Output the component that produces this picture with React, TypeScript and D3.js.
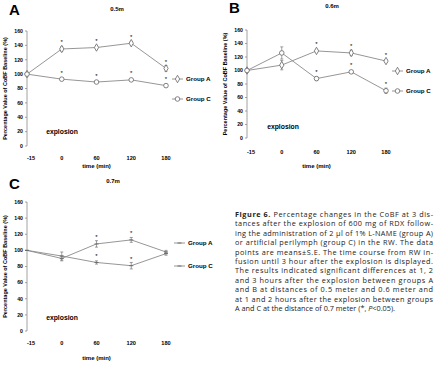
import React from 'react';
import * as d3 from 'd3';

// time points (min) shared by all three panels
const times = ['-15', '0', '60', '120', '180'];
const yTicks = [0, 20, 40, 60, 80, 100, 120, 140, 160];

// 0.5 m
const a05 = [100, 135, 137, 143, 108];
const a05Err = [0, 3, 2, 2, 4];
const c05 = [100, 93, 89, 92, 84];
const c05Err = [0, 1, 1, 1, 2];
const sig05 = [false, true, true, true, true];

// 0.6 m
const a06 = [100, 108, 129, 126, 114];
const a06Err = [0, 7, 2, 4, 2];
const c06 = [100, 126, 88, 98, 70];
const c06Err = [0, 9, 3, 2, 4];
const sig06 = [false, false, true, true, true];

// 0.7 m
const a07 = [100, 90, 108, 113, 98];
const a07Err = [0, 3, 4, 3, 2];
const c07 = [100, 93, 85, 81, 96];
const c07Err = [0, 5, 2, 4, 2];
const sig07 = [false, false, true, true, false];

const captionLines = [
  'tances after the explosion of 600 mg of RDX follow-',
  'ing the administration of 2 μl of 1% L-NAME (group A)',
  'or artificial perilymph (group C) in the RW. The data',
  'points are means±S.E. The time course from RW in-',
  'fusion until 3 hour after the explosion is displayed.',
  'The results indicated significant differences at 1, 2',
  'and 3 hours after the explosion between groups A',
  'and B at distances of 0.5 meter and 0.6 meter and',
  'at 1 and 2 hours after the explosion between groups',
];

const FONT = '"Liberation Sans", Arial, sans-serif';
const LINE = '#8a8a8a';

type PanelProps = {
  letter: string;
  title: string;
  left: number;
  right: number;
  top: number;
  bottom: number;
  letterX: number;
  letterY: number;
  titleX: number;
  titleY: number;
  labelY: number;
  axisTitleY: number;
  legendX: number;
  legendY: [number, number];
  explosionX: number;
  explosionY: number;
  groupA: number[];
  errA: number[];
  groupC: number[];
  errC: number[];
  sig: boolean[];
  dashMarkers?: boolean;
};

function Marker({ x, y, kind }: { x: number; y: number; kind: string }) {
  if (kind === 'dash') {
    return <line x1={x - 2} x2={x + 2} y1={y} y2={y} stroke="#666" strokeWidth={0.9} />;
  }
  if (kind === 'diamond') {
    const d = d3.symbol(d3.symbolDiamond, 16)() as string;
    return <path d={d} transform={`translate(${x},${y})`} fill="#fff" stroke="#666" strokeWidth={0.8} />;
  }
  return <circle cx={x} cy={y} r={2.3} fill="#fff" stroke="#666" strokeWidth={0.8} />;
}

function Panel(p: PanelProps) {
  const x = d3.scalePoint<string>().domain(times).range([p.left, p.right]);
  const y = d3.scaleLinear().domain([0, 160]).range([p.bottom, p.top]);
  const line = d3
    .line<number>()
    .x((_, i) => x(times[i]) as number)
    .y((d) => y(d));

  const series = [
    { name: 'Group A', values: p.groupA, err: p.errA, kind: p.dashMarkers ? 'dash' : 'diamond' },
    { name: 'Group C', values: p.groupC, err: p.errC, kind: p.dashMarkers ? 'dash' : 'circle' },
  ];

  return (
    <g fontFamily={FONT}>
      <text x={p.letterX} y={p.letterY} fontSize={15} fontWeight="bold">
        {p.letter}
      </text>
      <text x={p.titleX} y={p.titleY} fontSize={6} fontWeight="bold" textAnchor="middle">
        {p.title}
      </text>

      {/* y axis */}
      <line x1={p.left} x2={p.left} y1={y(160)} y2={y(0)} stroke={LINE} strokeWidth={0.8} />
      {yTicks.map((t) => (
        <g key={t}>
          <line x1={p.left - 2} x2={p.left} y1={y(t)} y2={y(t)} stroke={LINE} strokeWidth={0.8} />
          <text x={p.left - 4} y={y(t)} dy="0.35em" fontSize={5.2} fontWeight="bold" textAnchor="end">
            {t}
          </text>
        </g>
      ))}
      <text
        transform={`translate(${p.left - 20},${(y(0) + y(160)) / 2}) rotate(-90)`}
        fontSize={5.5}
        fontWeight="bold"
        textAnchor="middle"
      >
        Percentage Value of CoBF Baseline (%)
      </text>

      {/* x axis labels */}
      {times.map((t, i) => (
        <text key={t} x={(x(t) as number) + (i === 0 ? 4 : 0)} y={p.labelY} fontSize={5.6} fontWeight="bold" textAnchor="middle">
          {t}
        </text>
      ))}
      <text x={x('60')} y={p.axisTitleY} fontSize={6} fontWeight="bold" textAnchor="middle">
        time (min)
      </text>

      <text x={p.explosionX} y={p.explosionY} fontSize={6.8} fontWeight="bold" textAnchor="middle">
        explosion
      </text>

      {series.map((s) => (
        <g key={s.name}>
          <path d={line(s.values) as string} fill="none" stroke={LINE} strokeWidth={0.9} />
          {s.values.map((v, i) =>
            s.err[i] > 0 ? (
              <g key={'e' + i} stroke="#777" strokeWidth={0.7}>
                <line x1={x(times[i])} x2={x(times[i])} y1={y(v - s.err[i])} y2={y(v + s.err[i])} />
                <line x1={(x(times[i]) as number) - 1.5} x2={(x(times[i]) as number) + 1.5} y1={y(v + s.err[i])} y2={y(v + s.err[i])} />
                <line x1={(x(times[i]) as number) - 1.5} x2={(x(times[i]) as number) + 1.5} y1={y(v - s.err[i])} y2={y(v - s.err[i])} />
              </g>
            ) : null
          )}
          {s.values.map((v, i) => (
            <Marker key={'m' + i} x={x(times[i]) as number} y={y(v)} kind={s.kind} />
          ))}
          {s.values.map((v, i) =>
            p.sig[i] ? (
              <text key={'s' + i} x={x(times[i])} y={y(v) - 4.5} fontSize={6} textAnchor="middle">
                *
              </text>
            ) : null
          )}
        </g>
      ))}

      {/* legend */}
      {series.map((s, i) => (
        <g key={'l' + s.name}>
          <line x1={p.legendX} x2={p.legendX + 11} y1={p.legendY[i]} y2={p.legendY[i]} stroke={LINE} strokeWidth={0.9} />
          <Marker x={p.legendX + 5.5} y={p.legendY[i]} kind={s.kind} />
          <text x={p.legendX + 14} y={p.legendY[i]} dy="0.35em" fontSize={6.2} fontWeight="bold">
            {s.name}
          </text>
        </g>
      ))}
    </g>
  );
}

export default function App() {
  const capX = 235;
  const capW = 198;
  const capY0 = 217;
  const capStep = 9.4;
  return (
    <svg width={439} height={380} style={{ position: 'absolute', left: 0, top: 0, background: '#fff' }}>
      <Panel
        letter="A" title="0.5m"
        left={27} right={166} top={31} bottom={146}
        letterX={9} letterY={15} titleX={117} titleY={11}
        labelY={160} axisTitleY={168}
        legendX={172} legendY={[79, 99]}
        explosionX={62} explosionY={134}
        groupA={a05} errA={a05Err} groupC={c05} errC={c05Err} sig={sig05}
      />
      <Panel
        letter="B" title="0.6m"
        left={247} right={386} top={30} bottom={138}
        letterX={229} letterY={13} titleX={332} titleY={8}
        labelY={154} axisTitleY={168}
        legendX={392} legendY={[71, 91]}
        explosionX={283} explosionY={129}
        groupA={a06} errA={a06Err} groupC={c06} errC={c06Err} sig={sig06}
      />
      <Panel
        letter="C" title="0.7m"
        left={27} right={166} top={202} bottom={331}
        letterX={9} letterY={189} titleX={113} titleY={183}
        labelY={345} axisTitleY={360}
        legendX={174} legendY={[243, 266]}
        explosionX={62} explosionY={320}
        groupA={a07} errA={a07Err} groupC={c07} errC={c07Err} sig={sig07}
        dashMarkers
      />

      <g fontFamily='"Open Sans", "DejaVu Sans", sans-serif' fontSize={7.3} fill="#222">
        <text x={capX} y={capY0} textLength={capW} lengthAdjust="spacing">
          <tspan fontWeight="bold">Figure 6.</tspan> Percentage changes in the CoBF at 3 dis-
        </text>
        {captionLines.map((l, i) => (
          <text key={i} x={capX} y={capY0 + capStep * (i + 1)} textLength={capW} lengthAdjust="spacing">
            {l}
          </text>
        ))}
        <text x={capX} y={capY0 + capStep * 10}>
          A and C at the distance of 0.7 meter (*, <tspan fontStyle="italic">P</tspan>&lt;0.05).
        </text>
      </g>
    </svg>
  );
}
